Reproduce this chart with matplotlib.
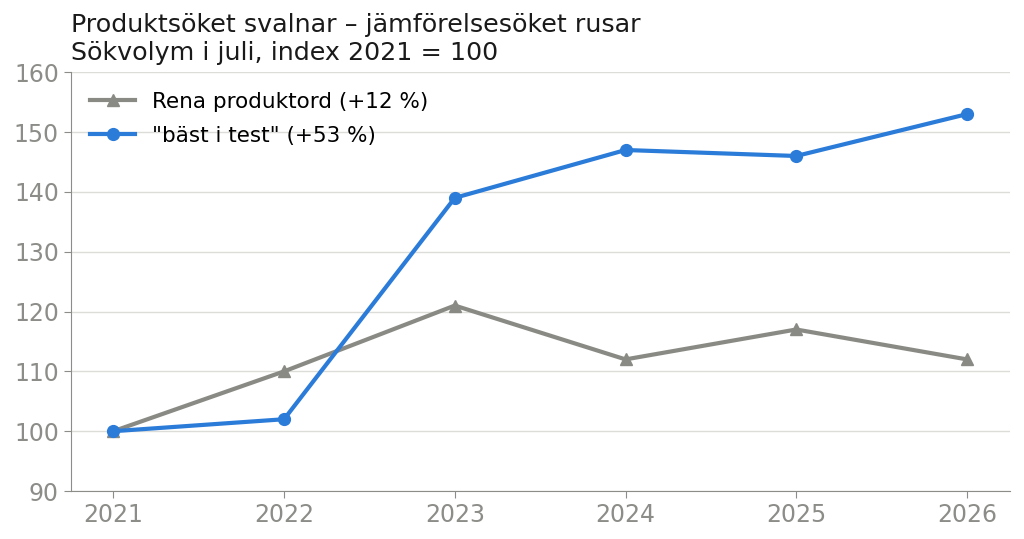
import matplotlib
matplotlib.use("Agg")
import matplotlib.pyplot as plt

plt.rcParams["font.family"] = ["DejaVu Sans"]

# data (index 2021 = 100)
years = [2021, 2022, 2023, 2024, 2025, 2026]
rena = [100, 110, 121, 112, 117, 112]
bast = [100, 102, 139, 147, 146, 153]
labels = ["Rena produktord (+12 %)", '"bäst i test" (+53 %)']

gray = "#8a8a85"
blue = "#2b7bd9"
axis_gray = "#8c8c88"

fig = plt.figure(figsize=(10.24, 5.39), dpi=100)
ax = fig.add_axes([0.069, 0.089, 0.917, 0.777])

ax.plot(years, rena, color=gray, lw=3, marker="^", ms=8.5, label=labels[0], zorder=3)
ax.plot(years, bast, color=blue, lw=3, marker="o", ms=8.5, label=labels[1], zorder=4)

ax.set_ylim(90, 160)
ax.set_yticks(range(90, 161, 10))
ax.set_xticks(years)
ax.grid(axis="y", color="#dcdcd8", lw=1)
ax.set_axisbelow(True)

for s in ["top", "right"]:
    ax.spines[s].set_visible(False)
for s in ["left", "bottom"]:
    ax.spines[s].set_color(axis_gray)
ax.tick_params(colors=axis_gray, labelsize=17, length=5)

ax.set_title("Produktsöket svalnar – jämförelsesöket rusar\nSökvolym i juli, index 2021 = 100",
             loc="left", fontsize=18.3, color="#1a1a1a", pad=9, linespacing=1.2)

leg = ax.legend(loc="upper left", frameon=False, fontsize=15.5, handlelength=2.1,
                labelspacing=0.65, borderaxespad=0.5)

fig.savefig("out.png", dpi=100)
